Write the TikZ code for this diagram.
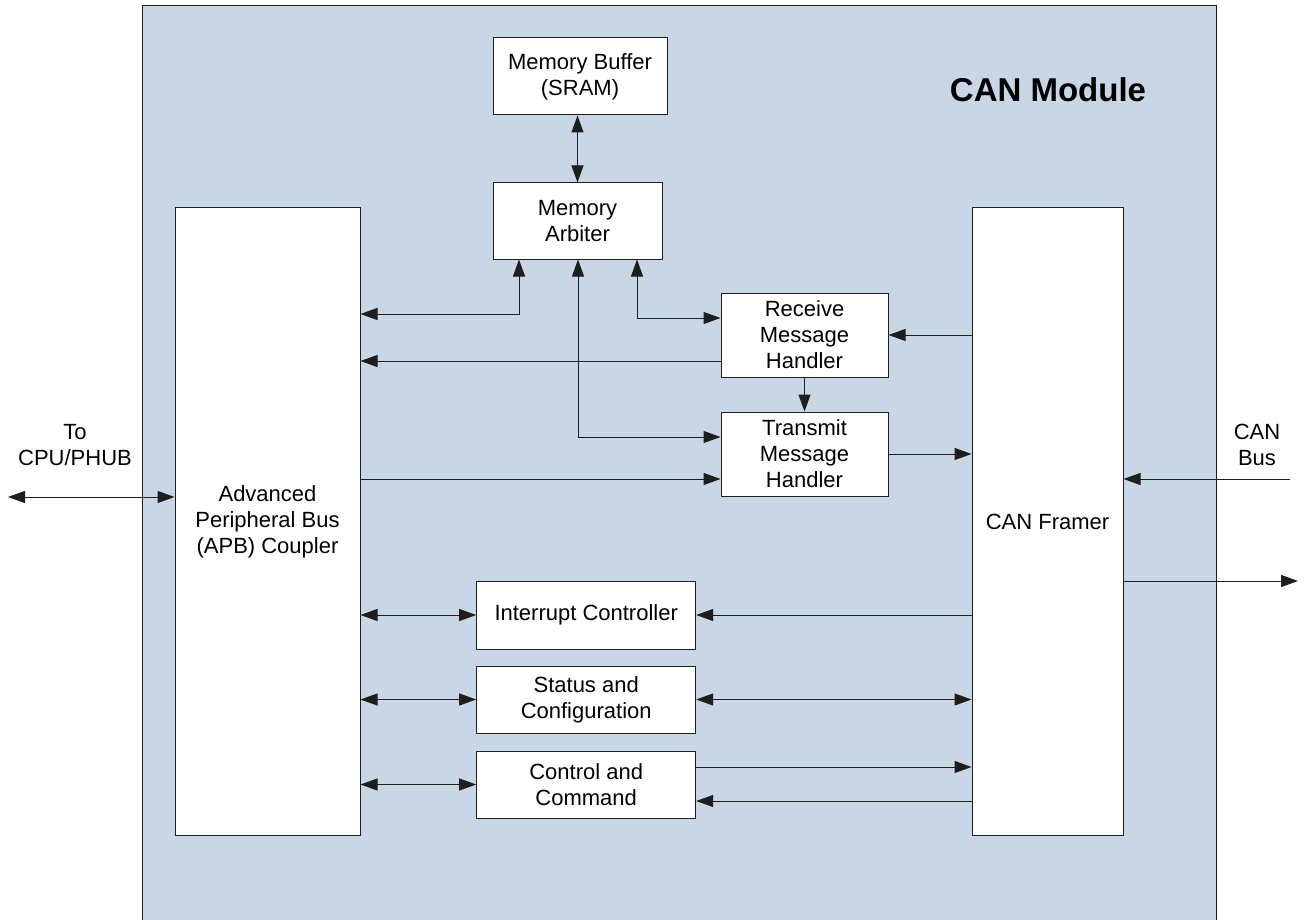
\documentclass[tikz,border=0pt]{standalone}
\usepackage{fontspec}
\setmainfont{Liberation Sans}
\usetikzlibrary{arrows.meta}
\definecolor{modbg}{RGB}{200,214,229}
\definecolor{edge}{RGB}{30,30,30}
\begin{document}
\begin{tikzpicture}[x=1pt,y=-1pt,
  >={Triangle[length=17pt,width=12pt]},
  blk/.style={draw=edge, fill=white, line width=1pt, inner sep=0pt, align=center,
              font=\fontsize{22}{26}\selectfont},
  lbl/.style={inner sep=0pt, align=center, font=\fontsize{22}{26}\selectfont},
  conn/.style={line width=1pt, draw=edge}]
\useasboundingbox (0,0) rectangle (1306,920);
% module background
\fill[modbg] (142,6) rectangle (1216,920);
\draw[line width=1pt, draw=edge] (142,920) -- (142,6) -- (1216,6) -- (1216,920);
\node[inner sep=0pt, font=\bfseries\fontsize{33}{38}\selectfont] (title) at (1048,90) {CAN Module};
% blocks
\node[blk, minimum width=174pt, minimum height=77pt] (buf) at (580,76.5) {Memory Buffer\\(SRAM)};
\node[blk, minimum width=169pt, minimum height=76pt] (arb) at (577.5,221) {Memory\\Arbiter};
\node[blk, minimum width=185pt, minimum height=627pt] (apb) at (267.5,521.5) {Advanced\\Peripheral Bus\\(APB) Coupler};
\node[blk, minimum width=151pt, minimum height=627pt] (can) at (1047.5,521.5) {CAN Framer};
\node[blk, minimum width=167pt, minimum height=84pt] (rx) at (804.5,335) {Receive\\Message\\Handler};
\node[blk, minimum width=167pt, minimum height=84pt] (tx) at (804.5,454) {Transmit\\Message\\Handler};
\node[blk, minimum width=219pt, minimum height=68pt] (irq) at (586.2,615) {Interrupt Controller};
\node[blk, minimum width=219pt, minimum height=67pt] (stat) at (586.2,699.5) {Status and\\Configuration};
\node[blk, minimum width=219pt, minimum height=67pt] (ctl) at (586.2,784.5) {Control and\\Command};
% outside labels
\node[lbl] (cpu) at (75,445) {To\\CPU/PHUB};
\node[lbl] (canbus) at (1257,445) {CAN\\Bus};
\coordinate (cpuend) at (8,497);
\coordinate (busin) at (1290,479);
\coordinate (busout) at (1298,581);
% connectors
\draw[conn,<->] (arb.north |- buf.south) -- (arb.north);
\draw[conn,<->] (apb.east |- 0,314) -| (519,0 |- arb.south);
\draw[conn,<->] (578,0 |- arb.south) |- (tx.west |- 0,437);
\draw[conn,<->] (637,0 |- arb.south) |- (rx.west |- 0,318);
\draw[conn,->] (rx.west |- 0,361) -- (apb.east |- 0,361);
\draw[conn,->] (rx.south) -- (tx.north);
\draw[conn,->] (apb.east |- 0,479) -- (tx.west |- 0,479);
\draw[conn,->] (can.west |- rx.east) -- (rx.east);
\draw[conn,->] (tx.east) -- (can.west |- tx.east);
\draw[conn,<->] (cpuend) -- (apb.west |- cpuend);
\draw[conn,->] (busin) -- (can.east |- busin);
\draw[conn,->] (can.east |- busout) -- (busout);
\draw[conn,<->] (apb.east |- irq.west) -- (irq.west);
\draw[conn,<->] (apb.east |- stat.west) -- (stat.west);
\draw[conn,<->] (apb.east |- ctl.west) -- (ctl.west);
\draw[conn,->] (can.west |- irq.east) -- (irq.east);
\draw[conn,<->] (stat.east) -- (can.west |- stat.east);
\draw[conn,->] (ctl.east |- 0,767) -- (can.west |- 0,767);
\draw[conn,->] (can.west |- 0,801) -- (ctl.east |- 0,801);
\end{tikzpicture}
\end{document}
